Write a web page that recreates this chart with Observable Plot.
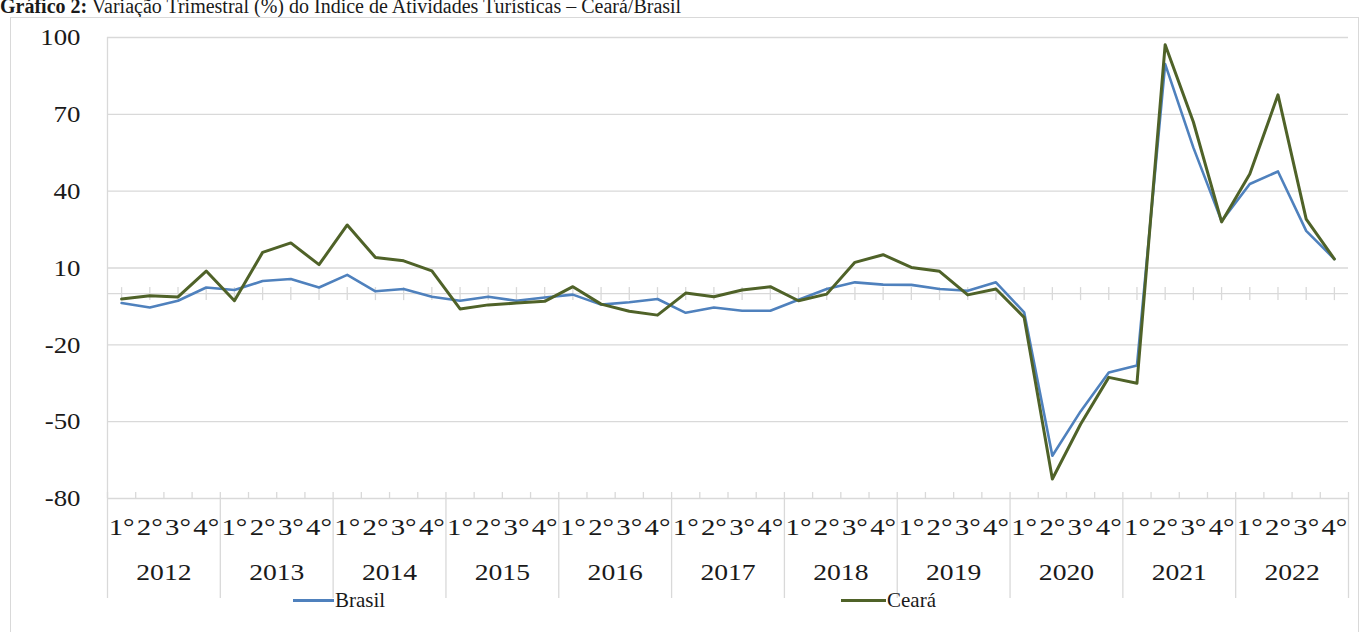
<!DOCTYPE html>
<html><head><meta charset="utf-8">
<script src="https://cdn.jsdelivr.net/npm/d3@7"></script>
<script src="https://cdn.jsdelivr.net/npm/@observablehq/plot@0.6"></script>
<style>
body{margin:0;background:#fff;}
#wrap{position:relative;width:1361px;height:632px;overflow:hidden;font-family:"Liberation Serif","Times New Roman",serif;color:#1a1a1a;}
#title{position:absolute;left:0;top:-4px;font-size:20px;line-height:20px;white-space:nowrap;}
#frame{position:absolute;left:10px;top:17px;width:1347px;height:640px;border:1px solid #d9d9d9;}
#chart{position:absolute;left:0;top:17px;}
#chart svg text{font-family:"Liberation Serif","Times New Roman",serif;}
.sw{position:absolute;height:3px;}
.lt{position:absolute;font-size:21px;line-height:20px;}
</style></head><body>
<div id="wrap">
  <div id="title"><b>Gráfico 2:</b> Variação Trimestral (%) do Índice de Atividades Turísticas – Ceará/Brasil</div>
  <div id="frame"></div>
  <div id="chart"></div>
  <div class="sw" style="left:293px;top:599px;width:41px;background:#4f81bd"></div>
  <div class="lt" style="left:335px;top:590px">Brasil</div>
  <div class="sw" style="left:841px;top:599px;width:45px;background:#4f6228"></div>
  <div class="lt" style="left:887px;top:590px">Ceará</div>
</div>
<script>
const years = ["2012","2013","2014","2015","2016","2017","2018","2019","2020","2021","2022"];
const quarterLabels = ["1°","2°","3°","4°"];
const yTicks = [100, 70, 40, 10, -20, -50, -80];
const brasil = [-3.7,-5.4,-2.8,2.4, 1.4,4.9,5.7,2.4, 7.3,0.9,1.8,-1.2, -2.8,-1.2,-2.8,-1.5,
  -0.4,-4.3,-3.4,-2.1, -7.5,-5.4,-6.7,-6.7, -2.4,1.8,4.4,3.5, 3.4,1.8,1.1,4.4,
  -7.3,-63.3,-46,-30.8, -28.1,89.6,57,28.3, 42.8,47.7,24.5,13.5];
const ceara = [-2.1,-0.8,-1.3,8.8, -2.8,16.1,19.8,11.3, 26.8,14.1,12.8,8.9, -6.0,-4.4,-3.7,-3.0,
  2.7,-4.1,-6.9,-8.4, 0.2,-1.2,1.4,2.7, -2.8,-0.2,12.2,15.2, 10.2,8.7,-0.5,1.8,
  -9.3,-72.4,-51,-32.7, -35.0,97.2,67,28, 46.7,77.6,29.1,13.5];

const idx = d3.range(brasil.length);
const qBounds = d3.range(brasil.length + 1).map(k => k - 0.5);
const yearBounds = d3.range(years.length + 1).map(k => 4 * k - 0.5);
const rowsB = idx.map(i => ({i, v: brasil[i]}));
const rowsC = idx.map(i => ({i, v: ceara[i]}));

const H = 600, mTop = 20, mBottom = 119;
const px = (H - mTop - mBottom) / 180; // pixels per unit
const u = p => p / px;
const grid = "#d9d9d9";
const ff = '"Liberation Serif", "Times New Roman", serif';
const ink = "#1a1a1a";

const chart = Plot.plot({
  width: 1361, height: H,
  marginLeft: 107, marginRight: 13, marginTop: mTop, marginBottom: mBottom,
  x: {domain: [-0.5, 43.5]},
  y: {domain: [-80, 100]},
  style: {fontFamily: ff, color: ink, background: "transparent", overflow: "visible"},
  marks: [
    Plot.ruleY(yTicks, {stroke: grid, strokeWidth: 1.3}),
    Plot.ruleY([0], {stroke: grid, strokeWidth: 1.3}),
    Plot.ruleX(idx, {x: d => d, y1: u(-7), y2: u(6), stroke: grid, strokeWidth: 1.3}),
    Plot.ruleX(qBounds, {x: d => d, y1: -80, y2: -80 + u(6), stroke: grid, strokeWidth: 1.3}),
    Plot.ruleX([-0.5], {x: d => d, y1: -80, y2: 100, stroke: grid, strokeWidth: 1.3}),
    Plot.ruleX(yearBounds, {x: d => d, y1: -80, y2: -80 - u(100), stroke: grid, strokeWidth: 1.3}),
    Plot.axisY({ticks: yTicks, tickSize: 0, tickPadding: 27, fontSize: 24, fontFamily: ff, tickFormat: d => String(d), label: null, className: "ylab"}),
    Plot.axisX({ticks: [], label: null}),
    Plot.text(idx, {x: d => d, y: -80, dy: 29, text: d => quarterLabels[d % 4], fontSize: 24, fontFamily: ff, lineAnchor: "middle", fill: ink, className: "qlab"}),
    Plot.text(years, {x: (d, k) => 4 * k + 1.5, y: -80, dy: 74, text: d => d, fontSize: 24, fontFamily: ff, lineAnchor: "middle", fill: ink, className: "ylabx"}),
    Plot.line(rowsB, {x: "i", y: "v", stroke: "#4f81bd", strokeWidth: 2.6}),
    Plot.line(rowsC, {x: "i", y: "v", stroke: "#4f6228", strokeWidth: 3})
  ]
});
document.getElementById("chart").appendChild(chart);

// widen the serif glyphs slightly, as in the stretched original
function stretch(sel, f) {
  chart.querySelectorAll(sel).forEach(t => {
    const w = t.getComputedTextLength();
    if (w > 0) { t.setAttribute("textLength", (w * f).toFixed(1)); t.setAttribute("lengthAdjust", "spacingAndGlyphs"); }
  });
}
stretch(".ylab text", 1.12);
stretch(".qlab text", 1.2);
stretch(".ylabx text", 1.15);
</script>
</body></html>
